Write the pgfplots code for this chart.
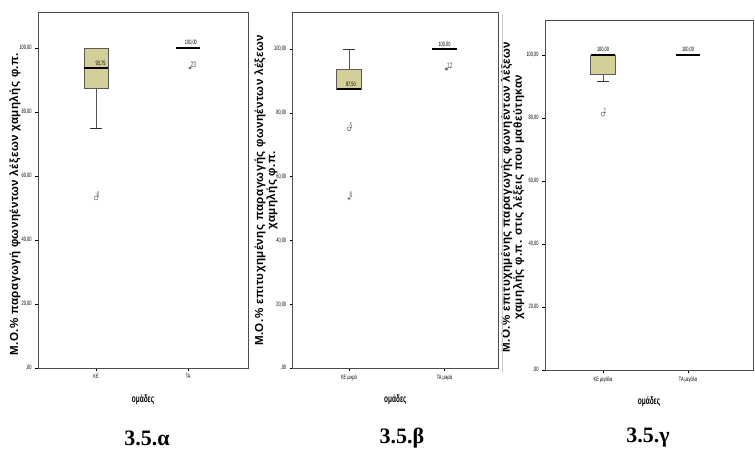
\documentclass[border=0pt]{standalone}
\usepackage{fontspec}
\setmainfont{Liberation Sans}
\newfontfamily\narrowfont[FakeStretch=0.62]{Liberation Sans}
\newfontfamily\labfont[LetterSpace=4]{Liberation Sans}
\newfontfamily\capfont{Liberation Serif}
\usepackage{pgfplots}
\pgfplotsset{compat=1.18}
\definecolor{boxfill}{HTML}{D4CF98}
\definecolor{boxedge}{HTML}{5A5A5A}
\pgfplotsset{spss/.style={
  scale only axis, ymin=0, xtick={1,2}, ytick={0,20,40,60,80,100},
  yticklabels={{,00},{20,00},{40,00},{60,00},{80,00},{100,00}},
  tick align=outside, xtick pos=bottom, ytick pos=left, major tick length=3pt,
  tick style={black, line width=0.5pt},
  axis line style={gray!60!black, line width=0.7pt},
  ticklabel style={font=\narrowfont\fontsize{6.3}{7}\selectfont},
  /pgf/number format/assume math mode=true,
  xlabel={ομάδες},
  xlabel style={font=\narrowfont\bfseries\fontsize{10.5}{11}\selectfont, at={(axis description cs:0.5,0)}, anchor=north, yshift=-23pt},
  ylabel style={font=\labfont\bfseries\fontsize{11.6}{12}\selectfont, align=center, anchor=center},
  clip=false,
  boxs/.style={fill=boxfill, draw=boxedge, line width=0.7pt},
  med/.style={black, line width=2.2pt},
  whisk/.style={gray!65!black, line width=0.8pt},
  cap/.style={black!80, line width=0.8pt},
  outl/.style={only marks, gray!60!black, nodes near coords, point meta=explicit symbolic,
     every node near coord/.style={font=\narrowfont\fontsize{8}{8}\selectfont, anchor=south west, inner sep=0.5pt, black!70}},
}}
\newcommand{\vlab}[1]{{\narrowfont\fontsize{6.3}{7}\selectfont #1}}
\begin{document}
\begin{tikzpicture}
\useasboundingbox (0,0) rectangle (755pt,470pt);
% ---------- 3.5.a
\begin{axis}[spss, at={(38pt,102pt)}, anchor=south west, width=210pt, height=356pt,
  xmin=0.37, xmax=2.65, ymax=111.25, xticklabels={ΚΕ,ΤΑ},
  ylabel={Μ.Ο.\% παραγωγή φωνηέντων λέξεων χαμηλής φ.π.},
  ylabel style={at={(axis description cs:-0.11,0.46)}}]
% KE: lower whisker 75, Q1 87.5, median 93.75, Q3 100, upper whisker 100
\addplot[whisk] coordinates {(1,75) (1,87.5)};
\addplot[cap] coordinates {(0.935,75) (1.065,75)};
\addplot[boxs] coordinates {(0.87,87.5) (1.13,87.5) (1.13,100) (0.87,100)} -- cycle;
\addplot[med] coordinates {(0.87,93.75) (1.13,93.75)};
% TA: all 100
\addplot[med] coordinates {(1.87,100) (2.13,100)};
\addplot[outl, mark=o, mark size=2pt] coordinates {(1,53.13) [6]};
\addplot[outl, mark=asterisk, mark size=1.6pt] coordinates {(2.02,93.75) [23]};
\node[anchor=south, inner sep=1.5pt] at (axis cs:1.05,93.75) {\vlab{93,75}};
\node[anchor=south, inner sep=2pt] at (axis cs:2.03,100) {\vlab{100,00}};
\end{axis}
% ---------- 3.5.b
\begin{axis}[spss, at={(292.7pt,102pt)}, anchor=south west, width=205.3pt, height=355.3pt,
  xmin=0.41, xmax=2.56, ymax=111.4, xticklabels={ΚΕ μικρά,ΤΑ μικρά},
  ylabel={Μ.Ο.\% επιτυχημένης παραγωγής φωνηέντων λέξεων\\χαμηλής φ.π.},
  ylabel style={at={(axis description cs:-0.13,0.5)}}]
% KE: Q1 = median = lower whisker 87.5, Q3 93.75, upper whisker 100
\addplot[whisk] coordinates {(1,93.75) (1,100)};
\addplot[cap] coordinates {(0.935,100) (1.065,100)};
\addplot[boxs] coordinates {(0.87,87.5) (1.13,87.5) (1.13,93.75) (0.87,93.75)} -- cycle;
\addplot[med] coordinates {(0.87,87.5) (1.13,87.5)};
\addplot[med] coordinates {(1.87,100) (2.13,100)};
\addplot[outl, mark=o, mark size=2pt] coordinates {(1,75) [5]};
\addplot[outl, mark=asterisk, mark size=1.6pt] coordinates {(1,53.13) [6] (2.02,93.75) [12]};
\node[anchor=south, inner sep=1.5pt] at (axis cs:1.02,87.5) {\vlab{87,50}};
\node[anchor=south, inner sep=2pt] at (axis cs:2.0,100) {\vlab{100,00}};
\end{axis}
% ---------- 3.5.c
\begin{axis}[spss, at={(545pt,100pt)}, anchor=south west, width=208pt, height=350pt,
  xmin=0.318, xmax=2.765, ymax=111.1, xticklabels={ΚΕ μεγάλα,ΤΑ μεγάλα},
  ylabel={Μ.Ο.\% επιτυχημένης παραγωγής φωνηέντων λέξεων\\χαμηλής φ.π. στις λέξεις που μαθεύτηκαν},
  ylabel style={at={(axis description cs:-0.155,0.494)}}]
% KE: lower whisker 91.67, Q1 93.75, median = Q3 = 100
\addplot[whisk] coordinates {(1,91.67) (1,93.75)};
\addplot[cap] coordinates {(0.93,91.67) (1.07,91.67)};
\addplot[boxs] coordinates {(0.855,93.75) (1.145,93.75) (1.145,100) (0.855,100)} -- cycle;
\addplot[med] coordinates {(0.855,100) (1.145,100)};
\addplot[med] coordinates {(1.855,100) (2.145,100)};
\addplot[outl, mark=o, mark size=2pt] coordinates {(1,81.25) [1]};
\node[anchor=south, inner sep=2pt] at (axis cs:1.0,100) {\vlab{100,00}};
\node[anchor=south, inner sep=2pt] at (axis cs:2.0,100) {\vlab{100,00}};
\end{axis}
\draw[gray!45, line width=0.6pt] (502pt,98pt) -- (502pt,455pt);
\node[font=\capfont\bfseries\fontsize{22}{24}\selectfont] at (147pt,32pt) {3.5.α};
\node[font=\capfont\bfseries\fontsize{22}{24}\selectfont] at (402pt,32pt) {3.5.β};
\node[font=\capfont\bfseries\fontsize{22}{24}\selectfont] at (648pt,32pt) {3.5.γ};
\end{tikzpicture}
\end{document}
